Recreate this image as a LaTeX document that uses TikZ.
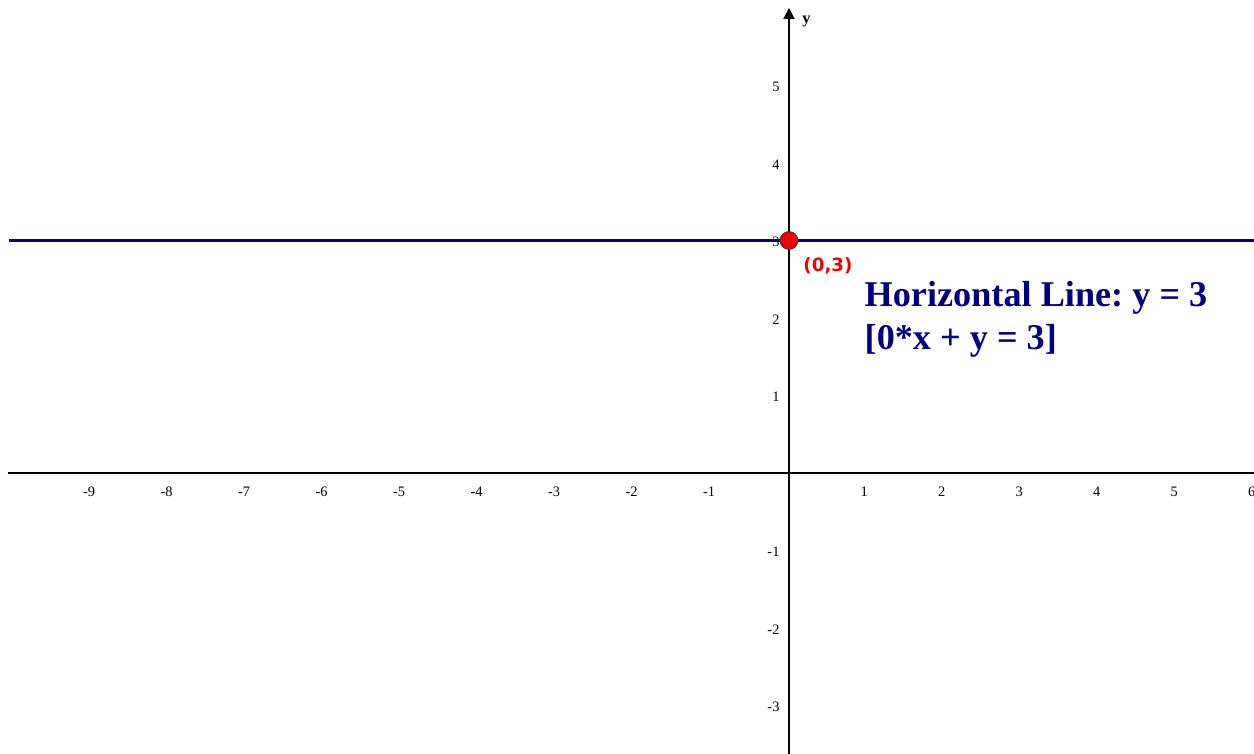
\documentclass[tikz,border=0pt]{standalone}
\usepackage{fontspec}
\setmainfont{Liberation Serif}
\newfontfamily\labelfont{DejaVu Sans}
\usepackage{tikz}
\usetikzlibrary{arrows.meta,positioning,calc}
\definecolor{linenavy}{RGB}{0,0,128}
\definecolor{ptred}{RGB}{240,0,0}
\frenchspacing

\begin{document}
\begin{tikzpicture}[
    axis/.style={line width=0.7pt, black},
    ticklbl/.style={font=\fontsize{5.3}{6}\selectfont, inner sep=1pt},
    hline/.style={line width=1.1pt, linenavy}
  ]
  \useasboundingbox (-10.18,-3.613) rectangle (6.0,6.103);
  \clip (-10.18,-3.613) rectangle (6.0,6.103);

  % axes
  \coordinate (xl) at (-10.08,0);
  \coordinate (xr) at (6.2,0);
  \coordinate (yb) at (0,-3.7);
  \coordinate (yt) at (0,6.0);
  \draw[axis] (xl) -- (xr);
  \draw[axis, -{Triangle[width=4pt,length=4pt]}] (yb) -- (yt);
  \node[font=\fontsize{6}{7}\selectfont\bfseries, anchor=west] (ylbl) at (0.05,5.83) {y};

  % tick labels
  \foreach \i in {-9,...,-1,1,2,...,6}
    \node[ticklbl, anchor=north] (x\i) at (\i-0.03,-0.14) {\i};
  \foreach \i in {-3,-2,-1,1,2,...,5}
    \node[ticklbl, anchor=east] (y\i) at (-0.08,\i-0.02) {\i};

  % the line y = 3
  \coordinate (hl) at (-10.06,3);
  \coordinate (hr) at (6.2,3);
  \draw[hline] (hl) -- (hr);
  \node[circle, fill=ptred, draw=black!80, line width=0.3pt, minimum size=0.23cm, inner sep=0pt] (p) at (0,3) {};
  \node[font=\fontsize{6.7}{8}\selectfont\labelfont\bfseries, text=ptred, anchor=west, inner sep=0pt] (plbl) at (0.18,2.67) {(0,3)};

  \node[font=\fontsize{13.3}{15.8}\selectfont\bfseries, text=linenavy, align=left, anchor=north west, inner sep=0pt] (eq) at (0.97,2.48)
    {Horizontal Line: y = 3\\{[}0*x + y = 3{]}};
\end{tikzpicture}
\end{document}
